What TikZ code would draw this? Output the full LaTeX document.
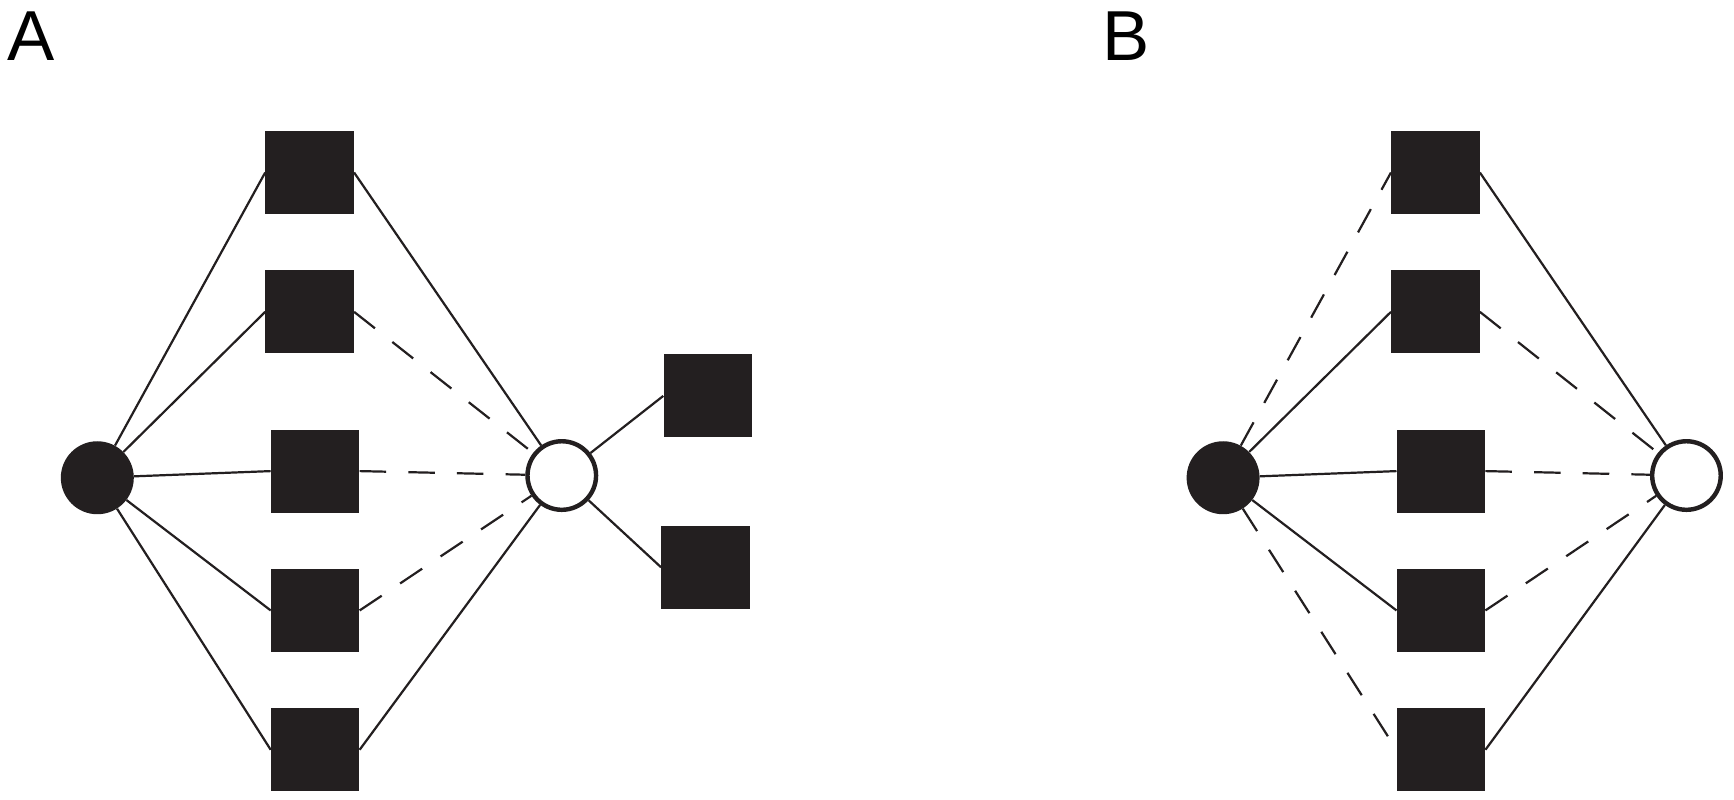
\documentclass[tikz,border=0pt]{standalone}
\usepackage{fontspec}
\setmainfont{Liberation Sans}
\definecolor{ink}{HTML}{231F20}
\begin{document}
\begin{tikzpicture}[x=1pt,y=-1pt,
  sq/.style={draw=none,fill=ink,minimum width=80pt,minimum height=75pt,inner sep=0pt},
  bc/.style={circle,fill=ink,minimum size=66pt,inner sep=0pt},
  wc/.style={circle,draw=ink,line width=4pt,fill=white,minimum size=62pt,inner sep=0pt},
  e/.style={line width=2pt,draw=ink},
  d/.style={e,dash pattern=on 24pt off 20pt},
  lab/.style={font=\fontsize{64}{70}\selectfont,inner sep=0pt}]
\useasboundingbox (0,0) rectangle (1568,723);
\node[lab] (la) at (28,33) {A};
\node[lab] (lb) at (1018,33) {B};
% Panel A
\node[bc] (ab) at (88,432) {};
\node[wc] (aw) at (508,430) {};
\node[sq] (a1) at (280,156) {};
\node[sq] (a2) at (280,282) {};
\node[sq] (a3) at (285,426) {};
\node[sq] (a4) at (285,552) {};
\node[sq] (a5) at (285,678) {};
\node[sq] (a6) at (640,358) {};
\node[sq] (a7) at (638,513) {};
\draw[e] (ab) -- (a1.west);
\draw[e] (ab) -- (a2.west);
\draw[e] (ab) -- (a3.west);
\draw[e] (ab) -- (a4.west);
\draw[e] (ab) -- (a5.west);
\draw[e] (a1.east) -- (aw);
\draw[d] (a2.east) -- (aw);
\draw[d] (a3.east) -- (aw);
\draw[d] (a4.east) -- (aw);
\draw[e] (a5.east) -- (aw);
\draw[e] (aw) -- (a6.west);
\draw[e] (aw) -- (a7.west);
% Panel B
\node[bc] (bb) at (1106,432) {};
\node[wc] (bw) at (1525,430) {};
\node[sq] (b1) at (1298,156) {};
\node[sq] (b2) at (1298,282) {};
\node[sq] (b3) at (1303,426) {};
\node[sq] (b4) at (1303,552) {};
\node[sq] (b5) at (1303,678) {};
\draw[d] (bb) -- (b1.west);
\draw[e] (bb) -- (b2.west);
\draw[e] (bb) -- (b3.west);
\draw[e] (bb) -- (b4.west);
\draw[d] (bb) -- (b5.west);
\draw[e] (b1.east) -- (bw);
\draw[d] (b2.east) -- (bw);
\draw[d] (b3.east) -- (bw);
\draw[d] (b4.east) -- (bw);
\draw[e] (b5.east) -- (bw);
% redraw nodes on top
\foreach \n in {ab,bb}{}
\end{tikzpicture}
\end{document}
